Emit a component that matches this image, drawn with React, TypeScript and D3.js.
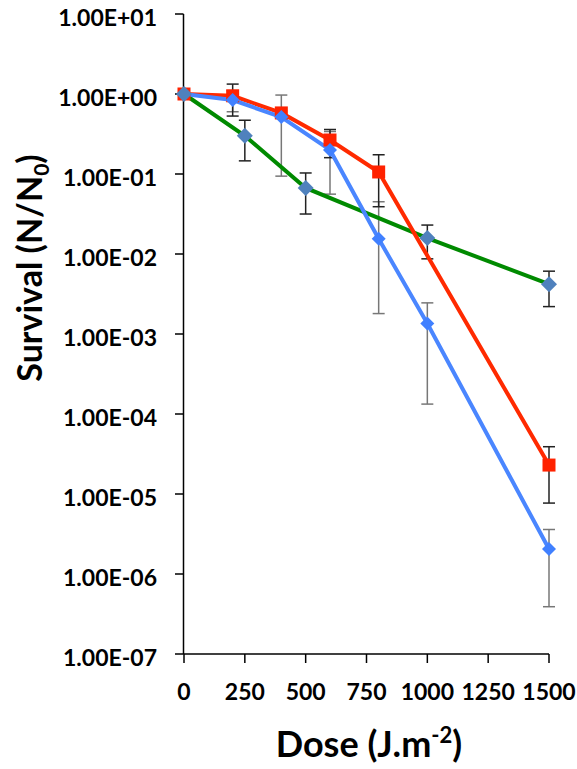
import React from "react";
import * as d3 from "d3";

const yTickValues = [1e1, 1e0, 1e-1, 1e-2, 1e-3, 1e-4, 1e-5, 1e-6, 1e-7];
const yTickLabels = ["1.00E+01", "1.00E+00", "1.00E-01", "1.00E-02", "1.00E-03", "1.00E-04", "1.00E-05", "1.00E-06", "1.00E-07"];
const xTickValues = [0, 250, 500, 750, 1000, 1250, 1500];

const redDose = [0, 200, 400, 600, 800, 1500];
const redSurv = [1.0, 0.95, 0.58, 0.266, 0.106, 2.3e-5];
const redLo = [null, 0.53, null, 0.16, 0.039, 7.7e-6];
const redHi = [null, 1.33, null, 0.36, 0.174, 3.9e-5];

const blueDose = [0, 200, 400, 600, 800, 1000, 1500];
const blueSurv = [1.0, 0.84, 0.515, 0.2, 0.0155, 0.00135, 2.05e-6];
const blueLo = [null, 0.6, 0.094, 0.056, 0.0018, 1.33e-4, 3.9e-7];
const blueHi = [null, 1.1, 0.97, 0.34, 0.045, 0.00245, 3.6e-6];

const greenDose = [0, 250, 500, 1000, 1500];
const greenSurv = [1.0, 0.3, 0.067, 0.0158, 0.0042];
const greenLo = [null, 0.146, 0.0316, 0.0087, 0.0022];
const greenHi = [null, 0.47, 0.103, 0.023, 0.0061];

type Pt = { d: number; s: number; lo: number | null; hi: number | null };
const mk = (d: number[], s: number[], lo: (number | null)[], hi: (number | null)[]): Pt[] =>
  d.map((v, i) => ({ d: v, s: s[i], lo: lo[i], hi: hi[i] }));

const red = mk(redDose, redSurv, redLo, redHi);
const blue = mk(blueDose, blueSurv, blueLo, blueHi);
const green = mk(greenDose, greenSurv, greenLo, greenHi);

export default function App() {
  const x = d3.scaleLinear().domain([0, 1500]).range([184, 549]);
  const y = d3.scaleLog().domain([1e-7, 10]).range([654, 14]);
  const line = d3
    .line<Pt>()
    .x((p) => x(p.d))
    .y((p) => y(p.s));
  const font = "Lato, 'Open Sans', sans-serif";

  const errBars = (data: Pt[], color: string, key: string) =>
    data
      .filter((p) => p.lo !== null && p.hi !== null)
      .map((p, i) => {
        const cx = x(p.d);
        const y1 = y(p.hi as number);
        const y2 = y(p.lo as number);
        return (
          <g key={key + i} stroke={color} strokeWidth={1.5}>
            <line x1={cx} x2={cx} y1={y1} y2={y2} />
            <line x1={cx - 6} x2={cx + 6} y1={y1} y2={y1} />
            <line x1={cx - 6} x2={cx + 6} y1={y2} y2={y2} />
          </g>
        );
      });

  const diamond = (p: Pt, r: number, color: string, key: string) => {
    const cx = x(p.d);
    const cy = y(p.s);
    return (
      <path
        key={key}
        d={`M${cx},${cy - r}L${cx + r},${cy}L${cx},${cy + r}L${cx - r},${cy}Z`}
        fill={color}
      />
    );
  };

  return (
    <svg
      width={577}
      height={769}
      style={{ position: "absolute", left: 0, top: 0, background: "#fff" }}
    >
      <rect x={0} y={0} width={577} height={769} fill="#fff" />
      {/* axes */}
      <line x1={183.5} x2={183.5} y1={14} y2={654} stroke="#000" strokeWidth={1.5} />
      <line x1={183.5} x2={549} y1={654} y2={654} stroke="#000" strokeWidth={1.5} />
      {yTickValues.map((v, i) => (
        <g key={"yt" + i}>
          <line x1={175} x2={183.5} y1={y(v)} y2={y(v)} stroke="#000" strokeWidth={1.5} />
          <text
            x={157}
            y={y(v) + 12}
            textAnchor="end"
            fontFamily={font}
            fontWeight={700}
            fontSize={23}
            fill="#000"
          >
            {yTickLabels[i]}
          </text>
        </g>
      ))}
      {xTickValues.map((v, i) => (
        <g key={"xt" + i}>
          <line x1={x(v)} x2={x(v)} y1={654} y2={663} stroke="#000" strokeWidth={1.5} />
          <text
            x={x(v)}
            y={700}
            textAnchor="middle"
            fontFamily={font}
            fontWeight={700}
            fontSize={23}
            fill="#000"
          >
            {v}
          </text>
        </g>
      ))}
      {/* axis titles */}
      <text
        x={369}
        y={757}
        textAnchor="middle"
        fontFamily={font}
        fontWeight={700}
        fontSize={36}
        fill="#000"
      >
        <tspan>Dose (J.m</tspan>
        <tspan dy={-14} fontSize={22}>-2</tspan>
        <tspan dy={14}>)</tspan>
      </text>
      <text
        transform="translate(42,268) rotate(-90)"
        textAnchor="middle"
        fontFamily={font}
        fontWeight={700}
        fontSize={34}
        fill="#000"
      >
        <tspan>Survival (N/N</tspan>
        <tspan dy={7} fontSize={21}>0</tspan>
        <tspan dy={-7}>)</tspan>
      </text>

      {/* error bars */}
      {errBars(blue, "#777", "eb")}
      {errBars(red, "#222", "er")}
      {errBars(green, "#222", "eg")}

      {/* lines */}
      <path d={line(green) || ""} fill="none" stroke="#008A00" strokeWidth={4} />
      <path d={line(red) || ""} fill="none" stroke="#FF2A00" strokeWidth={4} />
      <path d={line(blue) || ""} fill="none" stroke="#4A86FF" strokeWidth={4} />

      {/* markers */}
      {red.map((p, i) => (
        <rect key={"rm" + i} x={x(p.d) - 6.5} y={y(p.s) - 6.5} width={13} height={13} fill="#FF2200" />
      ))}
      {blue.map((p, i) => diamond(p, 7, "#4080FF", "bm" + i))}
      {green.map((p, i) => diamond(p, 8, "#4F81BD", "gm" + i))}
    </svg>
  );
}
